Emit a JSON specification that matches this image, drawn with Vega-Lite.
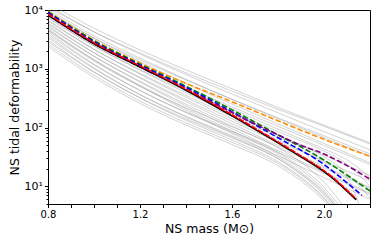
{
"$schema":"https://vega.github.io/schema/vega-lite/v6.json",
"width":322,"height":194,
"autosize":{"type":"none"},
"padding":{"left":48,"top":10,"right":4,"bottom":40},
"config":{"font":"DejaVu Sans","view":{"stroke":"#000","strokeWidth":1},
 "axis":{"grid":false,"domainColor":"#000","tickColor":"#000","labelColor":"#000","titleColor":"#000","labelFontSize":10,"titleFontSize":12.5,"titleFontWeight":"normal","labelOverlap":false,"labelBound":false,"labelFlush":false,"domainWidth":1,"tickWidth":1}},
"data":{"values":[
{"s":"g1","m":0.8,"L":13180},{"s":"g1","m":1.0,"L":4900},{"s":"g1","m":1.2,"L":2089},{"s":"g1","m":1.4,"L":955},{"s":"g1","m":1.6,"L":457},{"s":"g1","m":1.8,"L":219},{"s":"g1","m":2.0,"L":110},{"s":"g1","m":2.2,"L":55.0},
{"s":"g2","m":0.8,"L":12020},{"s":"g2","m":1.0,"L":4266},{"s":"g2","m":1.2,"L":1778},{"s":"g2","m":1.4,"L":794},{"s":"g2","m":1.6,"L":372},{"s":"g2","m":1.8,"L":178},{"s":"g2","m":2.0,"L":85.1},{"s":"g2","m":2.2,"L":41.7},
{"s":"g3","m":0.8,"L":11220},{"s":"g3","m":1.0,"L":4240},{"s":"g3","m":1.2,"L":1862},{"s":"g3","m":1.4,"L":851},{"s":"g3","m":1.6,"L":417},{"s":"g3","m":1.8,"L":204},{"s":"g3","m":2.0,"L":105},{"s":"g3","m":2.2,"L":52.5},
{"s":"g4","m":0.8,"L":10470},{"s":"g4","m":1.0,"L":3631},{"s":"g4","m":1.2,"L":1514},{"s":"g4","m":1.4,"L":661},{"s":"g4","m":1.6,"L":302},{"s":"g4","m":1.8,"L":141},{"s":"g4","m":2.0,"L":67.6},{"s":"g4","m":2.2,"L":32.4},
{"s":"g5","m":0.8,"L":9772},{"s":"g5","m":1.0,"L":3311},{"s":"g5","m":1.2,"L":1318},{"s":"g5","m":1.4,"L":562},{"s":"g5","m":1.6,"L":251},{"s":"g5","m":1.8,"L":115},{"s":"g5","m":2.0,"L":53.7},{"s":"g5","m":2.2,"L":25.1},
{"s":"g6","m":0.8,"L":9120},{"s":"g6","m":1.0,"L":3335},{"s":"g6","m":1.2,"L":1413},{"s":"g6","m":1.4,"L":646},{"s":"g6","m":1.6,"L":302},{"s":"g6","m":1.8,"L":146},{"s":"g6","m":2.0,"L":72.4},{"s":"g6","m":2.2,"L":35.5},
{"s":"g7","m":0.8,"L":8710},{"s":"g7","m":1.0,"L":2884},{"s":"g7","m":1.2,"L":1122},{"s":"g7","m":1.4,"L":473},{"s":"g7","m":1.6,"L":209},{"s":"g7","m":1.8,"L":93.3},{"s":"g7","m":2.0,"L":43.2},{"s":"g7","m":2.1,"L":28.2},{"s":"g7","m":2.2,"L":14.1},
{"s":"g8","m":0.8,"L":8128},{"s":"g8","m":1.0,"L":2818},{"s":"g8","m":1.2,"L":1148},{"s":"g8","m":1.4,"L":495},{"s":"g8","m":1.6,"L":224},{"s":"g8","m":1.8,"L":105},{"s":"g8","m":2.0,"L":49.5},{"s":"g8","m":2.2,"L":23.4},
{"s":"g9","m":0.8,"L":7586},{"s":"g9","m":1.0,"L":2455},{"s":"g9","m":1.2,"L":944},{"s":"g9","m":1.4,"L":389},{"s":"g9","m":1.6,"L":168},{"s":"g9","m":1.8,"L":74.6},{"s":"g9","m":2.0,"L":33.9},{"s":"g9","m":2.2,"L":15.3},
{"s":"g10","m":0.8,"L":7244},{"s":"g10","m":1.0,"L":2455},{"s":"g10","m":1.2,"L":977},{"s":"g10","m":1.4,"L":417},{"s":"g10","m":1.6,"L":186},{"s":"g10","m":1.8,"L":85.1},{"s":"g10","m":2.0,"L":39.8},{"s":"g10","m":2.1,"L":24.0},{"s":"g10","m":2.2,"L":10.0},
{"s":"g11","m":0.8,"L":6761},{"s":"g11","m":1.0,"L":2148},{"s":"g11","m":1.2,"L":809},{"s":"g11","m":1.4,"L":328},{"s":"g11","m":1.6,"L":140},{"s":"g11","m":1.8,"L":60.8},{"s":"g11","m":2.0,"L":27.2},{"s":"g11","m":2.2,"L":12.2},
{"s":"g12","m":0.8,"L":6457},{"s":"g12","m":1.0,"L":2143},{"s":"g12","m":1.2,"L":838},{"s":"g12","m":1.4,"L":351},{"s":"g12","m":1.6,"L":154},{"s":"g12","m":1.8,"L":69.3},{"s":"g12","m":2.0,"L":32.0},{"s":"g12","m":2.1,"L":16.6},{"s":"g12","m":2.2,"L":6.31},
{"s":"g13","m":0.8,"L":6026},{"s":"g13","m":1.0,"L":1871},{"s":"g13","m":1.2,"L":692},{"s":"g13","m":1.4,"L":276},{"s":"g13","m":1.6,"L":116},{"s":"g13","m":1.8,"L":49.7},{"s":"g13","m":2.0,"L":21.8},{"s":"g13","m":2.2,"L":9.62},
{"s":"g14","m":0.8,"L":5754},{"s":"g14","m":1.0,"L":1866},{"s":"g14","m":1.2,"L":716},{"s":"g14","m":1.4,"L":295},{"s":"g14","m":1.6,"L":128},{"s":"g14","m":1.8,"L":56.6},{"s":"g14","m":2.0,"L":25.7},{"s":"g14","m":2.1,"L":14.1},{"s":"g14","m":2.16,"L":3.98},
{"s":"g15","m":0.8,"L":5370},{"s":"g15","m":1.0,"L":1633},{"s":"g15","m":1.2,"L":593},{"s":"g15","m":1.4,"L":232},{"s":"g15","m":1.6,"L":95.7},{"s":"g15","m":1.8,"L":40.5},{"s":"g15","m":2.0,"L":17.5},{"s":"g15","m":2.2,"L":7.60},
{"s":"g16","m":0.8,"L":5129},{"s":"g16","m":1.0,"L":1629},{"s":"g16","m":1.2,"L":614},{"s":"g16","m":1.4,"L":249},{"s":"g16","m":1.6,"L":106},{"s":"g16","m":1.8,"L":46.1},{"s":"g16","m":2.0,"L":20.6},{"s":"g16","m":2.2,"L":9.23},
{"s":"g17","m":0.8,"L":4786},{"s":"g17","m":1.0,"L":1426},{"s":"g17","m":1.2,"L":508},{"s":"g17","m":1.4,"L":195},{"s":"g17","m":1.6,"L":79.3},{"s":"g17","m":1.8,"L":33.0},{"s":"g17","m":2.0,"L":14.1},{"s":"g17","m":2.2,"L":6.01},
{"s":"g18","m":0.8,"L":4571},{"s":"g18","m":1.0,"L":1419},{"s":"g18","m":1.2,"L":525},{"s":"g18","m":1.4,"L":209},{"s":"g18","m":1.6,"L":87.7},{"s":"g18","m":1.8,"L":37.7},{"s":"g18","m":2.0,"L":16.6},{"s":"g18","m":2.2,"L":7.29},
{"s":"g19","m":0.8,"L":4467},{"s":"g19","m":1.0,"L":1352},{"s":"g19","m":1.2,"L":500},{"s":"g19","m":1.4,"L":217},{"s":"g19","m":1.6,"L":103},{"s":"g19","m":1.8,"L":45.8},{"s":"g19","m":1.9,"L":25.5},{"s":"g19","m":2.0,"L":11.8},{"s":"g19","m":2.1,"L":3.83},
{"s":"g20","m":0.8,"L":4169},{"s":"g20","m":1.0,"L":1199},{"s":"g20","m":1.2,"L":428},{"s":"g20","m":1.4,"L":179},{"s":"g20","m":1.6,"L":82.6},{"s":"g20","m":1.8,"L":35.4},{"s":"g20","m":1.9,"L":19.2},{"s":"g20","m":2.0,"L":8.65},{"s":"g20","m":2.1,"L":2.67},
{"s":"g21","m":0.8,"L":3890},{"s":"g21","m":1.0,"L":1161},{"s":"g21","m":1.2,"L":427},{"s":"g21","m":1.4,"L":183},{"s":"g21","m":1.6,"L":86.5},{"s":"g21","m":1.8,"L":38.0},{"s":"g21","m":1.9,"L":21.0},{"s":"g21","m":2.0,"L":9.68},{"s":"g21","m":2.1,"L":3.10},
{"s":"g22","m":0.8,"L":3631},{"s":"g22","m":1.0,"L":1033},{"s":"g22","m":1.2,"L":364},{"s":"g22","m":1.4,"L":151},{"s":"g22","m":1.6,"L":69.2},{"s":"g22","m":1.8,"L":29.4},{"s":"g22","m":1.9,"L":15.9},{"s":"g22","m":2.0,"L":7.10},{"s":"g22","m":2.1,"L":2.17},
{"s":"g23","m":0.8,"L":3388},{"s":"g23","m":1.0,"L":1000},{"s":"g23","m":1.2,"L":363},{"s":"g23","m":1.4,"L":155},{"s":"g23","m":1.6,"L":72.4},{"s":"g23","m":1.8,"L":31.6},{"s":"g23","m":1.9,"L":17.4},{"s":"g23","m":2.0,"L":7.94},{"s":"g23","m":2.1,"L":2.51},
{"s":"g24","m":0.8,"L":3090},{"s":"g24","m":1.0,"L":889},{"s":"g24","m":1.2,"L":317},{"s":"g24","m":1.4,"L":133},{"s":"g24","m":1.6,"L":61.2},{"s":"g24","m":1.8,"L":26.2},{"s":"g24","m":1.9,"L":14.3},{"s":"g24","m":2.0,"L":6.41},{"s":"g24","m":2.1,"L":1.98},
{"s":"g25","m":0.8,"L":2884},{"s":"g25","m":1.0,"L":873},{"s":"g25","m":1.2,"L":323},{"s":"g25","m":1.4,"L":140},{"s":"g25","m":1.6,"L":66.5},{"s":"g25","m":1.8,"L":29.6},{"s":"g25","m":1.9,"L":16.4},{"s":"g25","m":2.0,"L":7.64},{"s":"g25","m":2.1,"L":2.47},
{"s":"g26","m":0.8,"L":2630},{"s":"g26","m":1.0,"L":776},{"s":"g26","m":1.2,"L":282},{"s":"g26","m":1.4,"L":120},{"s":"g26","m":1.6,"L":56.2},{"s":"g26","m":1.8,"L":24.5},{"s":"g26","m":1.9,"L":13.5},{"s":"g26","m":2.0,"L":6.17},{"s":"g26","m":2.1,"L":1.95},
{"s":"g27","m":0.8,"L":2399},{"s":"g27","m":1.0,"L":708},{"s":"g27","m":1.2,"L":257},{"s":"g27","m":1.4,"L":110},{"s":"g27","m":1.6,"L":51.3},{"s":"g27","m":1.8,"L":22.4},{"s":"g27","m":1.9,"L":12.3},{"s":"g27","m":2.0,"L":5.62},{"s":"g27","m":2.1,"L":1.78},
{"s":"orange","m":0.8,"L":9550},{"s":"orange","m":1.0,"L":3055},{"s":"orange","m":1.2,"L":1250},{"s":"orange","m":1.4,"L":564},{"s":"orange","m":1.6,"L":275},{"s":"orange","m":1.8,"L":130},{"s":"orange","m":2.0,"L":63},{"s":"orange","m":2.2,"L":32.4},
{"s":"green","m":0.8,"L":9250},{"s":"green","m":1.0,"L":3000},{"s":"green","m":1.2,"L":1200},{"s":"green","m":1.4,"L":505},{"s":"green","m":1.6,"L":200},{"s":"green","m":1.8,"L":75},{"s":"green","m":2.0,"L":28},{"s":"green","m":2.1,"L":15.5},{"s":"green","m":2.2,"L":8.3},
{"s":"blue","m":0.8,"L":9078},{"s":"blue","m":1.0,"L":2880},{"s":"blue","m":1.2,"L":1160},{"s":"blue","m":1.4,"L":480},{"s":"blue","m":1.6,"L":185},{"s":"blue","m":1.8,"L":67},{"s":"blue","m":2.0,"L":23.5},{"s":"blue","m":2.1,"L":11.5},{"s":"blue","m":2.165,"L":7.0},
{"s":"purple","m":0.8,"L":8222},{"s":"purple","m":1.0,"L":2660},{"s":"purple","m":1.2,"L":1080},{"s":"purple","m":1.4,"L":450},{"s":"purple","m":1.6,"L":180},{"s":"purple","m":1.8,"L":75},{"s":"purple","m":1.9,"L":50},{"s":"purple","m":2.0,"L":35.5},{"s":"purple","m":2.1,"L":22.5},{"s":"purple","m":2.2,"L":13.2},
{"s":"black","m":0.8,"L":8200},{"s":"black","m":1.0,"L":2660},{"s":"black","m":1.2,"L":1075},{"s":"black","m":1.4,"L":432},{"s":"black","m":1.6,"L":158},{"s":"black","m":1.8,"L":54.7},{"s":"black","m":1.9,"L":31.7},{"s":"black","m":2.0,"L":17.8},{"s":"black","m":2.05,"L":12.5},{"s":"black","m":2.1,"L":8.3},{"s":"black","m":2.14,"L":5.9},
{"s":"red","m":0.8,"L":8551},{"s":"red","m":1.0,"L":2770},{"s":"red","m":1.2,"L":1120},{"s":"red","m":1.4,"L":450},{"s":"red","m":1.6,"L":165},{"s":"red","m":1.8,"L":57},{"s":"red","m":1.9,"L":33},{"s":"red","m":2.0,"L":18.5},{"s":"red","m":2.05,"L":13.0},{"s":"red","m":2.1,"L":8.6},{"s":"red","m":2.14,"L":6.1}
]},
"encoding":{
 "x":{"field":"m","type":"quantitative","scale":{"domain":[0.8,2.2],"nice":false,"zero":false},
  "axis":{"title":"NS mass (M⊙)","values":[0.8,0.9,1.0,1.1,1.2,1.3,1.4,1.5,1.6,1.7,1.8,1.9,2.0,2.1,2.2],
   "labelExpr":"round(datum.value*10)%4==0 ? format(datum.value,'.1f') : ''",
   "tickSize":3.5,"labelPadding":2,"titlePadding":3}},
 "y":{"field":"L","type":"quantitative","scale":{"type":"log","domain":[5,10000],"nice":false},
  "axis":{"title":"NS tidal deformability","values":[5,6,7,8,9,10,20,30,40,50,60,70,80,90,100,200,300,400,500,600,700,800,900,1000,2000,3000,4000,5000,6000,7000,8000,9000,10000],
   "labelExpr":"datum.value==10?'10¹':datum.value==100?'10²':datum.value==1000?'10³':datum.value==10000?'10⁴':''",
   "labelFontSize":11,
   "tickSize":{"condition":{"test":"datum.value==10||datum.value==100||datum.value==1000||datum.value==10000","value":3.5},"value":2},
   "labelPadding":2,"titlePadding":3}}
},
"layer":[
 {"transform":[{"filter":"indexof(['orange','green','blue','purple','black','red'],datum.s)<0"}],
  "mark":{"type":"line","color":"#808080","opacity":0.4,"strokeWidth":0.9,"clip":true,"interpolate":"monotone"},
  "encoding":{"detail":{"field":"s"}}},
 {"transform":[{"filter":"datum.s=='orange'"}],"mark":{"type":"line","color":"#ff8c00","strokeWidth":1.6,"strokeDash":[5.5,2.4],"clip":true,"interpolate":"monotone"}},
 {"transform":[{"filter":"datum.s=='green'"}],"mark":{"type":"line","color":"#008000","strokeWidth":1.6,"strokeDash":[5.5,2.4],"clip":true,"interpolate":"monotone"}},
 {"transform":[{"filter":"datum.s=='blue'"}],"mark":{"type":"line","color":"#0000ff","strokeWidth":1.6,"strokeDash":[5.5,2.4],"clip":true,"interpolate":"monotone"}},
 {"transform":[{"filter":"datum.s=='purple'"}],"mark":{"type":"line","color":"#800080","strokeWidth":1.6,"strokeDash":[5.5,2.4],"clip":true,"interpolate":"monotone"}},
 {"transform":[{"filter":"datum.s=='black'"}],"mark":{"type":"line","color":"#000000","strokeWidth":1.6,"clip":true,"interpolate":"monotone"}},
 {"transform":[{"filter":"datum.s=='red'"}],"mark":{"type":"line","color":"#ff0000","strokeWidth":1.6,"strokeDash":[6,1.5],"clip":true,"interpolate":"monotone"}}
]
}
